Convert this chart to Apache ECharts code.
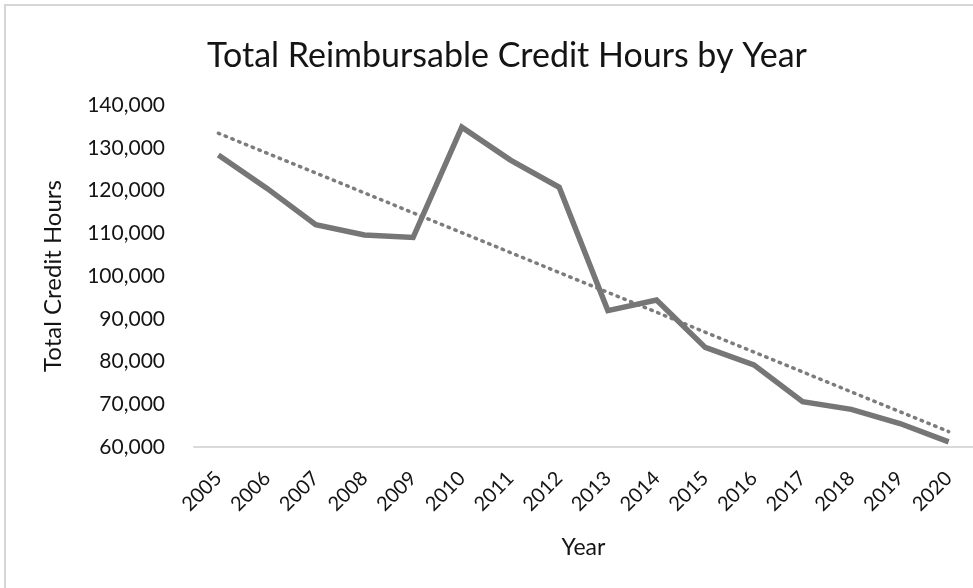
<!DOCTYPE html>
<html>
<head>
<meta charset="utf-8">
<title>Total Reimbursable Credit Hours by Year</title>
<script src="https://cdn.jsdelivr.net/npm/echarts@6/dist/echarts.min.js"></script>
<style>
  html, body { margin: 0; padding: 0; background: #ffffff; }
  #chart { width: 973px; height: 588px; }
</style>
</head>
<body>
<div id="chart"></div>
<script>
// Fiscal years on the category axis
const years = ['2005', '2006', '2007', '2008', '2009', '2010', '2011', '2012',
               '2013', '2014', '2015', '2016', '2017', '2018', '2019', '2020'];

// Total reimbursable credit hours per year
const creditHours = [128300, 120500, 112000, 109600, 109000, 134800, 127100, 120750,
                     91900, 94400, 83300, 79200, 70600, 68800, 65500, 61200];

// Linear trend: values at the first and last year (intermediate years left empty)
const trendEnds = { first: 133400, last: 63600 };

// Y axis range and step
const yMin = 60000;
const yMax = 140000;
const yStep = 10000;

const trendData = years.map((_, i) =>
  i === 0 ? trendEnds.first : (i === years.length - 1 ? trendEnds.last : null));

const FONT = 'Lato';
const INK = '#141414';
const chart = echarts.init(document.getElementById('chart'), null, { renderer: 'canvas' });

chart.setOption({
  backgroundColor: '#ffffff',
  animation: false,
  title: {
    text: 'Total Reimbursable Credit Hours by Year',
    left: 502,
    top: 34,
    textAlign: 'center',
    textStyle: { fontFamily: FONT, fontSize: 34, fontWeight: 'normal', color: INK }
  },
  graphic: [{
    type: 'polyline',
    shape: { points: [[5, 588], [5, 5], [973, 5]] },
    style: { stroke: '#d6d6d6', lineWidth: 2, fill: null },
    silent: true
  }],
  grid: { left: 194, right: 0, top: 105, bottom: 141, containLabel: false },
  xAxis: {
    type: 'category',
    data: years,
    boundaryGap: true,
    name: 'Year',
    nameLocation: 'middle',
    nameGap: 89,
    nameTextStyle: { fontFamily: FONT, fontSize: 23, color: INK },
    axisLine: { lineStyle: { color: '#d9d9d9', width: 2 } },
    axisTick: { show: false },
    axisLabel: {
      rotate: 45,
      margin: 28,
      interval: 0,
      fontFamily: FONT,
      fontSize: 20,
      color: INK
    }
  },
  yAxis: {
    type: 'value',
    min: yMin,
    max: yMax,
    interval: yStep,
    name: 'Total Credit Hours',
    nameLocation: 'middle',
    nameGap: 129,
    nameRotate: 90,
    nameTextStyle: { fontFamily: FONT, fontSize: 24, color: INK },
    axisLine: { show: false },
    axisTick: { show: false },
    splitLine: { show: false },
    axisLabel: {
      margin: 29,
      fontFamily: FONT,
      fontSize: 21,
      color: INK,
      formatter: v => v.toLocaleString('en-US')
    }
  },
  series: [
    {
      name: 'Total Credit Hours',
      type: 'line',
      data: creditHours,
      symbol: 'none',
      lineStyle: { color: '#767676', width: 5.5, join: 'miter' },
      z: 3
    },
    {
      name: 'Linear trend',
      type: 'line',
      data: trendData,
      connectNulls: true,
      symbol: 'none',
      lineStyle: { color: '#7c7c7c', width: 3.5, type: [1.5, 5.8], cap: 'round' },
      z: 2
    }
  ]
});
</script>
</body>
</html>
